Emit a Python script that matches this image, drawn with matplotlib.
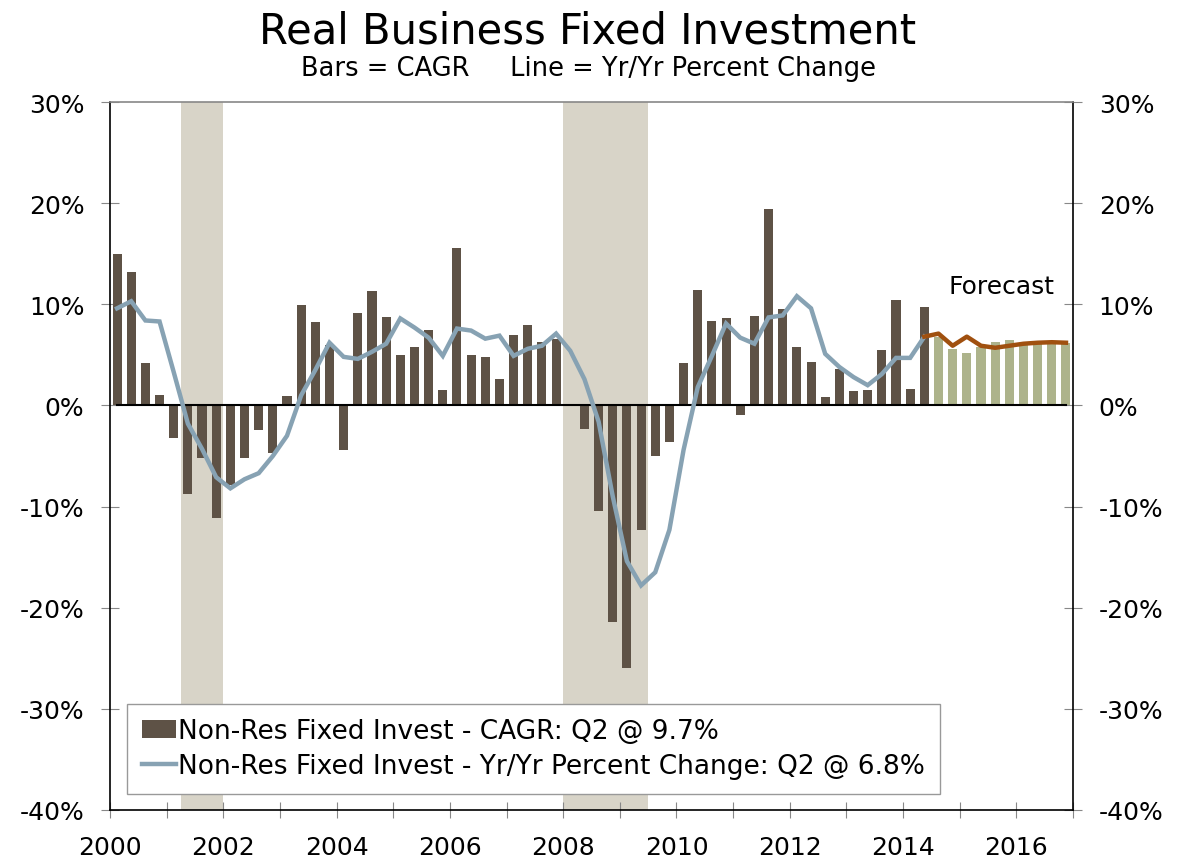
import numpy as np
import matplotlib.pyplot as plt
from matplotlib.patches import Patch
from matplotlib.lines import Line2D

plt.rcParams['font.family'] = ['DejaVu Sans']

# quarterly data, 2000 Q1 .. 2016 Q4
start_year = 2000
n_quarters = 68
last_actual = 57  # index of 2014 Q2

cagr = [15.0, 13.2, 4.2, 1.0, -3.2, -8.8, -5.2, -11.1,
        -7.9, -5.2, -2.4, -4.7, 0.9, 9.9, 8.2, 6.0,
        -4.4, 9.1, 11.3, 8.7, 5.0, 5.8, 7.5, 1.5,
        15.6, 5.0, 4.8, 2.6, 7.0, 8.0, 6.3, 6.6,
        0.1, -2.3, -10.4, -21.4, -26.0, -12.3, -5.0, -3.6,
        4.2, 11.4, 8.3, 8.6, -0.9, 8.8, 19.4, 9.5,
        5.8, 4.3, 0.8, 3.6, 1.4, 1.5, 5.5, 10.4,
        1.6, 9.7,
        # forecast
        6.8, 5.6, 5.2, 5.8, 6.3, 6.5, 6.1, 6.2, 6.2, 6.2]

yoy = [9.6, 10.3, 8.4, 8.3, 3.3, -1.8, -4.3, -7.1,
       -8.2, -7.3, -6.7, -5.0, -3.0, 1.0, 3.5, 6.2,
       4.8, 4.6, 5.3, 6.1, 8.6, 7.7, 6.7, 4.9,
       7.6, 7.4, 6.6, 6.9, 4.9, 5.6, 5.9, 7.1,
       5.4, 2.6, -1.6, -9.0, -15.4, -17.8, -16.5, -12.3,
       -4.4, 1.8, 4.9, 8.1, 6.7, 6.1, 8.7, 8.9,
       10.8, 9.6, 5.1, 3.8, 2.8, 2.0, 3.1, 4.7,
       4.7, 6.8,
       # forecast
       7.1, 5.9, 6.8, 5.9, 5.7, 5.9, 6.1, 6.2, 6.25, 6.2]

recessions = [(2001.25, 2002.0), (2008.0, 2009.5)]

bar_color = '#5e5246'
fc_bar_color = '#adb38b'
line_color = '#87a2b3'
fc_line_color = '#a0500f'
rec_color = '#d8d4c8'

x = start_year + (np.arange(n_quarters) + 0.5) / 4.0
cagr = np.array(cagr)
yoy = np.array(yoy)
act = slice(0, last_actual + 1)
fc = slice(last_actual + 1, n_quarters)

fig = plt.figure(figsize=(11.94, 8.62), dpi=100)
ax = fig.add_axes([0.0921, 0.0592, 0.8066, 0.8213])

for a, b in recessions:
    ax.axvspan(a, b, color=rec_color, zorder=0, lw=0)

bw = 0.16
ax.bar(x[act], cagr[act], width=bw, color=bar_color, zorder=2)
ax.bar(x[fc], cagr[fc], width=bw, color=fc_bar_color, zorder=2)
ax.plot([x[0], x[-1]], [0, 0], color='black', lw=1.5, zorder=3)
ax.plot(x[act], yoy[act], color=line_color, lw=3.2, zorder=4, solid_joinstyle='miter')
ax.plot(x[last_actual:], yoy[last_actual:], color=fc_line_color, lw=3.2, zorder=4)

ax.set_xlim(2000, 2017)
ax.set_ylim(-40, 30)
ax.set_xticks(np.arange(2000, 2018))
ax.set_xticklabels([str(y) if y % 2 == 0 and y <= 2016 else '' for y in range(2000, 2018)])
yt = np.arange(-40, 31, 10)
ax.set_yticks(yt)
ax.set_yticklabels([f'{v}%' for v in yt])
ax.tick_params(axis='y', which='both', direction='inout', length=13, color='#888888',
               labelsize=18, pad=12, left=True, right=True, labelleft=True, labelright=True)
ax.tick_params(axis='x', direction='inout', length=12, color='#888888', labelsize=18, pad=12)

for s in ['left', 'right', 'bottom']:
    ax.spines[s].set_color('black')
    ax.spines[s].set_linewidth(1.2)
ax.spines['top'].set_color('#888888')
ax.spines['top'].set_linewidth(1.2)

ax.text(2016.68, 11.1, 'Forecast', fontsize=18, ha='right', va='baseline')

handles = [Patch(facecolor=bar_color, edgecolor='none'),
           Line2D([0], [0], color=line_color, lw=3.2)]
labels = ['Non-Res Fixed Invest - CAGR: Q2 @ 9.7%',
          'Non-Res Fixed Invest - Yr/Yr Percent Change: Q2 @ 6.8%']
leg = ax.legend(handles, labels, loc='lower left', bbox_to_anchor=(0.0177, 0.0226),
                fontsize=19, frameon=True, fancybox=False, edgecolor='#999999',
                framealpha=1.0, handlelength=1.3, handletextpad=0.1, borderpad=0.55,
                labelspacing=0.35, borderaxespad=0)
leg.get_frame().set_linewidth(1.0)
leg.set_zorder(5)

fig.text(0.4925, 0.988, 'Real Business Fixed Investment', fontsize=30, ha='center', va='top')
fig.text(0.4925, 0.935, 'Bars = CAGR     Line = Yr/Yr Percent Change', fontsize=18.5,
         ha='center', va='top')

fig.savefig('out.png', dpi=100)
